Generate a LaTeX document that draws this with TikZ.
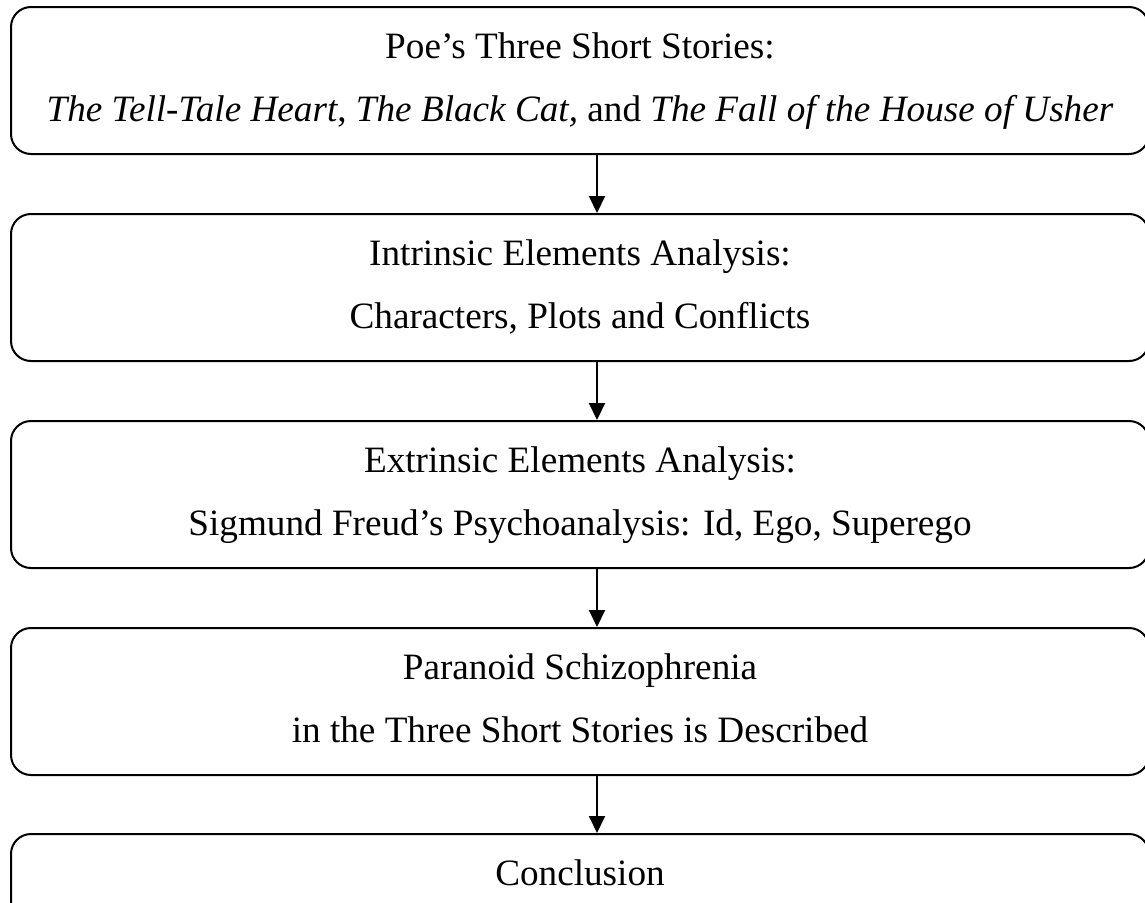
\documentclass[tikz,border=0pt]{standalone}
\usepackage{fontspec}
\setmainfont{Liberation Serif}
\usetikzlibrary{arrows.meta}
\begin{document}
\begin{tikzpicture}[x=1pt,y=-1pt,
  box/.style={draw=black,line width=2pt,rounded corners=20pt,rectangle,
    minimum width=1138pt,minimum height=147pt,inner sep=0pt,anchor=north west},
  txt/.style={anchor=base,inner sep=0pt,font=\fontsize{37.2}{44}\selectfont},
  arr/.style={line width=2pt,-{Triangle[length=17pt,width=16pt]}}]
\useasboundingbox (0,0) rectangle (1145,902);
\clip (0,0) rectangle (1145,902);
\coordinate (ax) at (597,0);
\node[box] (b1) at (10,6) {};
\node[box] (b2) at (10,213) {};
\node[box] (b3) at (10,420) {};
\node[box] (b4) at (10,627) {};
\node[box] (b5) at (10,833) {};
\node[txt] (t1a) at (580,58) {Poe’s Three Short Stories:};
\node[txt] (t1b) at (580,121) {\textit{The Tell-Tale Heart}, \textit{The Black Cat,} and \textit{The Fall of the House of Usher}};
\node[txt] (t2a) at (580,265) {Intrinsic Elements Analysis:};
\node[txt] (t2b) at (580,328) {Characters, Plots and Conflicts};
\node[txt] (t3a) at (580,472) {Extrinsic Elements Analysis:};
\node[txt] (t3b) at (580,535) {Sigmund Freud’s Psychoanalysis: Id, Ego, Superego};
\node[txt] (t4a) at (580,679) {Paranoid Schizophrenia};
\node[txt] (t4b) at (580,742) {in the Three Short Stories is Described};
\node[txt] (t5a) at (580,885) {Conclusion};
\draw[arr] (b1.south -| ax) -- (b2.north -| ax);
\draw[arr] (b2.south -| ax) -- (b3.north -| ax);
\draw[arr] (b3.south -| ax) -- (b4.north -| ax);
\draw[arr] (b4.south -| ax) -- (b5.north -| ax);
\end{tikzpicture}
\end{document}
